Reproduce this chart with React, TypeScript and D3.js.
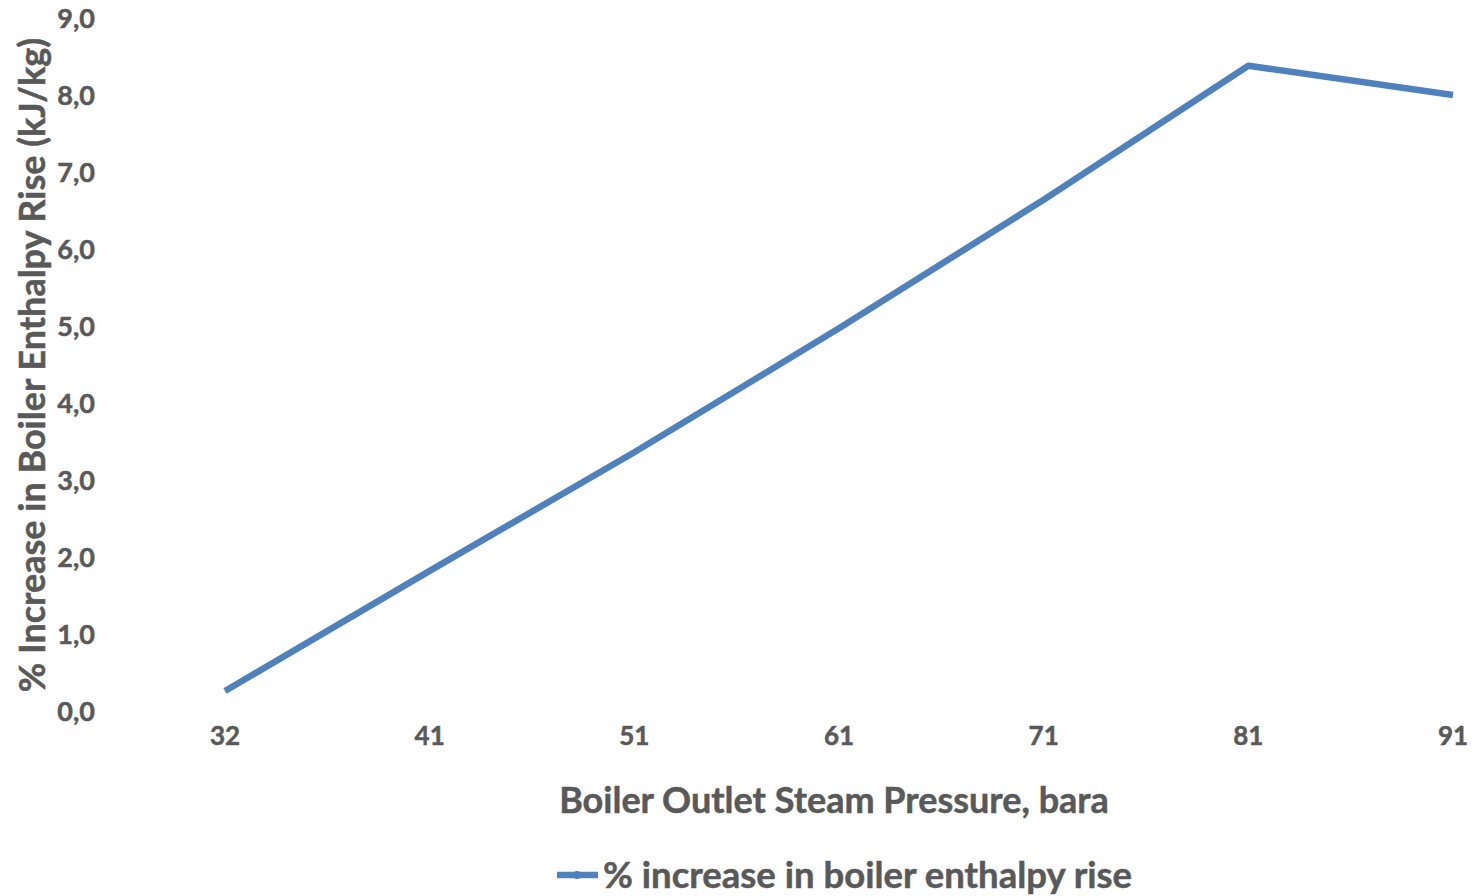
import React, { useEffect, useRef } from "react";
import * as d3 from "d3";

const categories = ["32", "41", "51", "61", "71", "81", "91"];
const values = [0.26, 1.82, 3.36, 4.97, 6.64, 8.38, 8.0];
const yTicks = [0, 1, 2, 3, 4, 5, 6, 7, 8, 9];
const seriesName = "% increase in boiler enthalpy rise";
const xTitle = "Boiler Outlet Steam Pressure, bara";
const yTitle = "% Increase in Boiler Enthalpy Rise (kJ/kg)";

const W = 1473;
const H = 896;
const FONT = "Lato, 'Open Sans', sans-serif";
const TXT = "#595959";
const LINE = "#4f81bd";

export default function App() {
  const ref = useRef<SVGSVGElement>(null);
  useEffect(() => {
    const svg = d3.select(ref.current);
    svg.selectAll("*").remove();
    const x = d3.scalePoint<string>().domain(categories).range([225, 1453]);
    const y = d3.scaleLinear().domain([0, 9]).range([711, 18]);

    const g = svg
      .append("g")
      .attr("font-family", FONT)
      .attr("font-weight", 700)
      .attr("fill", TXT)
      .attr("stroke", TXT)
      .attr("stroke-width", 0.5);

    g.selectAll("text.yt")
      .data(yTicks)
      .enter()
      .append("text")
      .attr("class", "yt")
      .attr("x", 95)
      .attr("y", (d) => y(d))
      .attr("dy", "0.36em")
      .attr("text-anchor", "end")
      .attr("font-size", 27)
      .text((d) => d3.format(".1f")(d).replace(".", ","));

    g.selectAll("text.xt")
      .data(categories)
      .enter()
      .append("text")
      .attr("class", "xt")
      .attr("x", (d) => x(d)!)
      .attr("y", 745)
      .attr("text-anchor", "middle")
      .attr("font-size", 26)
      .text((d) => d);

    g.append("text")
      .attr("x", 834)
      .attr("y", 813)
      .attr("text-anchor", "middle")
      .attr("font-size", 36)
      .text(xTitle);

    g.append("text")
      .attr("transform", `translate(45,365) rotate(-90)`)
      .attr("text-anchor", "middle")
      .attr("font-size", 36)
      .text(yTitle);

    const line = d3
      .line<number>()
      .x((_, i) => x(categories[i])!)
      .y((d) => y(d));

    svg
      .append("path")
      .datum(values)
      .attr("d", line)
      .attr("fill", "none")
      .attr("stroke", LINE)
      .attr("stroke-width", 6.5)
      .attr("stroke-linejoin", "round");

    const lg = svg.append("g");
    lg.append("line")
      .attr("x1", 557)
      .attr("x2", 598)
      .attr("y1", 875)
      .attr("y2", 875)
      .attr("stroke", LINE)
      .attr("stroke-width", 6.5);
    lg.append("circle").attr("cx", 577).attr("cy", 875).attr("r", 4).attr("fill", LINE);
    lg.append("text")
      .attr("x", 603)
      .attr("y", 888)
      .attr("font-family", FONT)
      .attr("font-weight", 700)
      .attr("font-size", 36.5)
      .attr("fill", TXT)
      .attr("stroke", TXT)
      .attr("stroke-width", 0.5)
      .text(seriesName);
  }, []);

  return (
    <svg ref={ref} width={W} height={H} style={{ position: "absolute", left: 0, top: 0, background: "#fff" }} />
  );
}
